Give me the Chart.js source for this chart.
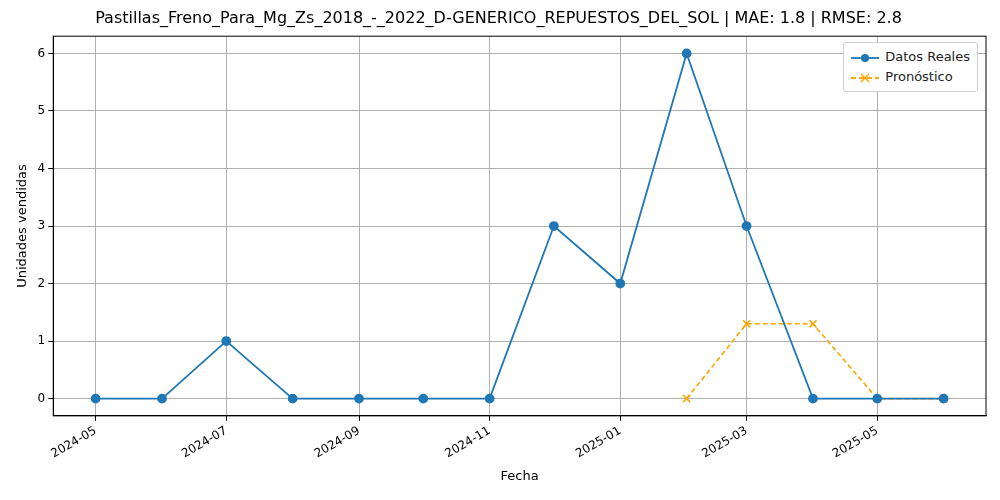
<!DOCTYPE html>
<html>
<head>
<meta charset="utf-8">
<script src="https://cdn.jsdelivr.net/npm/chart.js@4"></script>
<style>
  body { margin: 0; background: #fff; }
  #wrap { position: relative; width: 1000px; height: 500px; }
  #legend {
    position: absolute; right: 22px; top: 42px; background: #fff;
    border: 1px solid #d0d0d0; border-radius: 3px; padding: 4px 7px;
    font: 13px "DejaVu Sans", sans-serif; color: #222; line-height: 20px;
  }
  #legend svg { vertical-align: middle; margin-right: 6px; }
</style>
</head>
<body>
<div id="wrap">
  <canvas id="myChart" width="1000" height="500"></canvas>
  <div id="legend">
    <div><svg width="28" height="10"><line x1="0" y1="5" x2="28" y2="5" stroke="#1f77b4" stroke-width="1.8"/><circle cx="14" cy="5" r="4" fill="#1f77b4"/></svg>Datos Reales</div>
    <div><svg width="28" height="10"><line x1="0" y1="5" x2="28" y2="5" stroke="orange" stroke-width="1.8" stroke-dasharray="5,3"/><path d="M10 1 L18 9 M18 1 L10 9" stroke="orange" stroke-width="1.5"/></svg>Pronóstico</div>
  </div>
</div>
<script>
const realDates = ["2024-05-01","2024-06-01","2024-07-01","2024-08-01","2024-09-01","2024-10-01","2024-11-01","2024-12-01","2025-01-01","2025-02-01","2025-03-01","2025-04-01","2025-05-01","2025-06-01"];
const realValues = [0, 0, 1, 0, 0, 0, 0, 3, 2, 6, 3, 0, 0, 0];
const forecastDates = ["2025-02-01","2025-03-01","2025-04-01","2025-05-01","2025-06-01"];
const forecastValues = [0, 1.3, 1.3, 0, 0];
const tickLabels = ["2024-05","2024-07","2024-09","2024-11","2025-01","2025-03","2025-05"];

function toDay(s) {
  return Date.parse(s.length === 7 ? s + "-01T00:00:00Z" : s + "T00:00:00Z") / 86400000;
}
function dayLabel(v) {
  const d = new Date(v * 86400000);
  return d.getUTCFullYear() + "-" + String(d.getUTCMonth() + 1).padStart(2, "0");
}

const first = toDay(realDates[0]);
const last = toDay(realDates[realDates.length - 1]);
const margin = (last - first) * 0.05;

Chart.defaults.font.family = "DejaVu Sans";
Chart.defaults.color = "#000";

// full box around the plot area, like matplotlib
const frame = {
  id: "frame",
  afterDatasetsDraw(chart) {
    const a = chart.chartArea;
    const ctx = chart.ctx;
    ctx.save();
    ctx.strokeStyle = "#000";
    ctx.lineWidth = 1;
    ctx.strokeRect(a.left, a.top, a.right - a.left, a.bottom - a.top);
    ctx.restore();
  },
};

new Chart(document.getElementById("myChart"), {
  type: "line",
  data: {
    datasets: [
      {
        label: "Datos Reales",
        data: realDates.map((d, i) => ({ x: toDay(d), y: realValues[i] })),
        borderColor: "#1f77b4",
        backgroundColor: "#1f77b4",
        borderWidth: 1.8,
        pointRadius: 4,
        pointStyle: "circle",
        tension: 0,
      },
      {
        label: "Pronóstico",
        data: forecastDates.map((d, i) => ({ x: toDay(d), y: forecastValues[i] })),
        borderColor: "orange",
        backgroundColor: "orange",
        borderWidth: 1.6,
        borderDash: [5, 3],
        pointStyle: "crossRot",
        pointRadius: 5,
        pointBorderWidth: 1.6,
        tension: 0,
      },
    ],
  },
  options: {
    responsive: false,
    animation: false,
    layout: { padding: { left: 11, right: 14, top: 3, bottom: 12 } },
    plugins: {
      legend: { display: false },
      tooltip: { enabled: false },
      title: {
        display: true,
        text: "Pastillas_Freno_Para_Mg_Zs_2018_-_2022_D-GENERICO_REPUESTOS_DEL_SOL | MAE: 1.8 | RMSE: 2.8",
        font: { size: 16, weight: "normal" },
        padding: { top: 6, bottom: 8 },
      },
    },
    scales: {
      x: {
        type: "linear",
        min: first - margin,
        max: last + margin,
        afterBuildTicks: (axis) => {
          axis.ticks = tickLabels.map((t) => ({ value: toDay(t) }));
        },
        ticks: {
          callback: (v) => dayLabel(v),
          minRotation: 30,
          maxRotation: 30,
          font: { size: 12 },
        },
        grid: { color: "#b0b0b0", tickColor: "#000", tickLength: 5 },
        border: { color: "#000" },
        title: { display: true, text: "Fecha", font: { size: 13 } },
      },
      y: {
        min: -0.3,
        max: 6.3,
        afterBuildTicks: (axis) => {
          axis.ticks = [0, 1, 2, 3, 4, 5, 6].map((v) => ({ value: v }));
        },
        ticks: { font: { size: 12 } },
        grid: { color: "#b0b0b0", tickColor: "#000", tickLength: 5 },
        border: { color: "#000" },
        title: { display: true, text: "Unidades vendidas", font: { size: 13 } },
      },
    },
  },
  plugins: [frame],
});
</script>
</body>
</html>
